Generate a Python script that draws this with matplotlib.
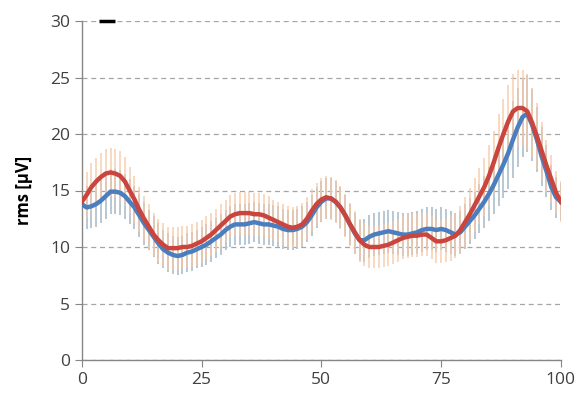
import numpy as np
import matplotlib.pyplot as plt

plt.rcParams['font.family'] = ['Open Sans', 'DejaVu Sans']

# Data (time in % of cycle)
x = np.arange(0, 101)

red_mean = [14.0, 14.6, 15.3, 15.8, 16.2, 16.5, 16.6, 16.5, 16.3, 15.8,
            15.0, 14.2, 13.3, 12.5, 11.8, 11.1, 10.6, 10.2, 9.9, 9.9,
            9.9, 10.0, 10.0, 10.1, 10.3, 10.5, 10.8, 11.1, 11.5, 11.9,
            12.3, 12.7, 12.9, 13.0, 13.0, 13.0, 12.9, 12.9, 12.8, 12.6,
            12.4, 12.2, 12.0, 11.8, 11.7, 11.8, 12.0, 12.5, 13.2, 13.8,
            14.2, 14.4, 14.3, 14.0, 13.5, 12.8, 12.0, 11.3, 10.6, 10.2,
            10.0, 10.0, 10.0, 10.1, 10.2, 10.4, 10.6, 10.8, 10.9, 11.0,
            11.0, 11.1, 11.1, 10.8, 10.5, 10.5, 10.6, 10.8, 11.0, 11.5,
            12.2, 12.9, 13.7, 14.5, 15.3, 16.3, 17.5, 18.8, 20.0, 21.1,
            22.0, 22.3, 22.3, 22.0, 21.0, 19.8, 18.5, 17.2, 16.0, 14.8,
            14.0]

red_sd = [2.0, 2.0, 2.1, 2.1, 2.1, 2.2, 2.2, 2.2, 2.2, 2.2,
          2.1, 2.1, 2.0, 2.0, 2.0, 1.9, 1.9, 1.9, 1.9, 1.9,
          1.9, 1.9, 1.9, 1.9, 1.9, 1.9, 1.9, 1.9, 1.9, 1.9,
          1.9, 1.9, 1.9, 1.9, 1.9, 1.9, 1.9, 1.9, 1.9, 1.9,
          1.8, 1.8, 1.8, 1.8, 1.8, 1.8, 1.9, 1.9, 1.9, 1.9,
          1.9, 1.9, 1.9, 1.9, 1.9, 1.9, 1.9, 1.9, 1.9, 1.9,
          1.9, 1.9, 1.9, 1.9, 1.9, 1.9, 1.9, 1.9, 1.9, 1.9,
          1.9, 1.9, 1.9, 1.9, 1.9, 1.9, 1.9, 2.0, 2.0, 2.1,
          2.2, 2.3, 2.4, 2.5, 2.6, 2.7, 2.8, 3.0, 3.1, 3.2,
          3.3, 3.4, 3.4, 3.3, 3.1, 2.9, 2.6, 2.3, 2.1, 1.9,
          1.8]

blue_mean = [13.8, 13.5, 13.6, 13.8, 14.1, 14.5, 14.9, 14.9, 14.8, 14.5,
             14.0, 13.5, 12.8, 12.1, 11.5, 10.9, 10.3, 9.8, 9.5, 9.3,
             9.2, 9.3, 9.5, 9.6, 9.8, 10.0, 10.2, 10.5, 10.8, 11.1,
             11.5, 11.8, 12.0, 12.0, 12.0, 12.1, 12.2, 12.1, 12.0, 12.0,
             11.9, 11.8, 11.6, 11.5, 11.5, 11.6, 11.8, 12.2, 12.8, 13.5,
             14.0, 14.3, 14.3, 14.0, 13.5, 12.8, 12.0, 11.2, 10.6, 10.6,
             10.9, 11.1, 11.2, 11.3, 11.4, 11.3, 11.2, 11.1, 11.1, 11.2,
             11.3, 11.5, 11.6, 11.6, 11.5, 11.6, 11.5, 11.3, 11.1, 11.3,
             11.8, 12.3, 12.8, 13.4, 14.0, 14.7, 15.5, 16.4, 17.3, 18.3,
             19.5, 20.6, 21.5, 21.8, 20.8, 19.5, 18.0, 16.7, 15.3, 14.4,
             14.0]

blue_sd = [1.9, 1.9, 1.9, 2.0, 2.0, 2.0, 2.0, 2.0, 2.0, 2.0,
           2.0, 1.9, 1.9, 1.9, 1.8, 1.8, 1.8, 1.7, 1.7, 1.7,
           1.7, 1.7, 1.7, 1.7, 1.7, 1.8, 1.8, 1.8, 1.8, 1.8,
           1.8, 1.8, 1.8, 1.8, 1.8, 1.8, 1.8, 1.8, 1.8, 1.8,
           1.8, 1.8, 1.8, 1.8, 1.8, 1.8, 1.8, 1.8, 1.8, 1.8,
           1.8, 1.8, 1.8, 1.8, 1.8, 1.8, 1.8, 1.8, 1.8, 1.9,
           1.9, 1.9, 1.9, 1.9, 1.9, 1.9, 1.9, 1.9, 1.9, 1.9,
           1.9, 1.9, 1.9, 1.9, 1.9, 1.9, 1.9, 1.9, 1.9, 1.9,
           2.0, 2.0, 2.1, 2.2, 2.3, 2.4, 2.6, 2.8, 3.0, 3.2,
           3.4, 3.5, 3.5, 3.4, 3.2, 2.9, 2.6, 2.3, 2.0, 1.8,
           1.7]

sig_x = [3.5, 7.0]
sig_y = [30, 30]

fig, ax = plt.subplots(figsize=(5.8, 4), dpi=100)
fig.subplots_adjust(left=0.141, right=0.967, bottom=0.1, top=0.9475)

# error bars first, then the mean lines on top
ax.errorbar(x, blue_mean, yerr=blue_sd, fmt='none', ecolor='#b3c3cf', elinewidth=1.3, zorder=2)
ax.errorbar(x, red_mean, yerr=red_sd, fmt='none', ecolor='#f6c9a6', elinewidth=1.3, alpha=0.75, zorder=2)
ax.plot(x, blue_mean, color='#4a7ebf', linewidth=3.2, zorder=4)
ax.plot(x, red_mean, color='#c9453d', linewidth=3.2, zorder=5)

# marker at top left
ax.plot(sig_x, sig_y, color='black', linewidth=2.5, solid_capstyle='butt', clip_on=False, zorder=6)

ax.set_xlim(0, 100)
ax.set_ylim(0, 30)
ax.set_xticks([0, 25, 50, 75, 100])
ax.set_yticks([0, 5, 10, 15, 20, 25, 30])
ax.yaxis.grid(True, linestyle=(0, (4, 3)), color='#a6a6a6', linewidth=0.9)
ax.set_axisbelow(True)

for s in ['top', 'right']:
    ax.spines[s].set_visible(False)
for s in ['left', 'bottom']:
    ax.spines[s].set_color('#868686')
    ax.spines[s].set_linewidth(1)

ax.tick_params(colors='#868686', labelcolor='#404040', labelsize=12.5, length=5, direction='out')
ax.set_ylabel('rms [µV]', fontsize=12, fontweight='bold', color='black', labelpad=12)

plt.savefig('out.png')
